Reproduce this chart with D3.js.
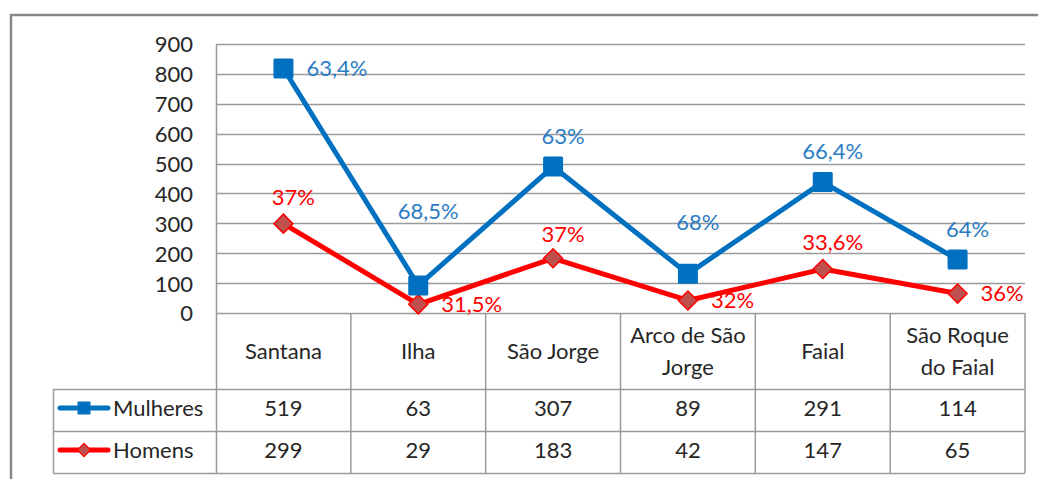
<!DOCTYPE html>
<html>
<head>
<meta charset="utf-8">
<script src="https://cdn.jsdelivr.net/npm/d3@7"></script>
<style>
body { margin: 0; background: #fff; }
svg text { font-family: Lato, "Open Sans", sans-serif; }
</style>
</head>
<body>
<div id="chart"></div>
<script>
var categories = ["Santana", "Ilha", "São Jorge", "Arco de São Jorge", "Faial", "São Roque do Faial"];
var mulheres = [519, 63, 307, 89, 291, 114];
var homens = [299, 29, 183, 42, 147, 65];
var pctMulheres = ["63,4%", "68,5%", "63%", "68%", "66,4%", "64%"];
var pctHomens = ["37%", "31,5%", "37%", "32%", "33,6%", "36%"];
var yTicks = [0, 100, 200, 300, 400, 500, 600, 700, 800, 900];

// where each data label sits relative to its point (layout only)
var posMulheres = ["right", "top", "top", "top", "top", "top"];
var liftMulheres = [0, 74, 30, 52, 31, 30];
var posHomens = ["top", "right", "top", "right", "top", "right"];
var liftHomens = [27, 0, 24, 0, 27, 0];

var width = 1038, height = 479;
var plot = {left: 216, right: 1025, top: 44, bottom: 313};
var rows = {cat: 389, m: 431, h: 473, legendLeft: 53};
var blue = "#0070C0", red = "#FF0000", grid = "#9a9a9a", ink = "#262626";
var fs = "22px";

var svg = d3.select("#chart").append("svg")
	.attr("width", width)
	.attr("height", height);

// outer frame (top and left edges only are visible)
svg.append("path")
	.attr("d", "M11,480 L11,15 L1038,15")
	.attr("fill", "none")
	.attr("stroke", "#888")
	.attr("stroke-width", 2.5);

var x = d3.scaleBand().domain(categories).range([plot.left, plot.right]);
var y = d3.scaleLinear().domain([0, 900]).range([plot.bottom, plot.top]);

// stacked: women sit on top of men
var stackM = mulheres.map(function(d, i) { return d + homens[i]; });

// gridlines
svg.append("g").selectAll("line")
	.data(yTicks)
	.enter()
	.append("line")
	.attr("x1", plot.left)
	.attr("x2", plot.right)
	.attr("y1", function(d) { return Math.round(y(d)) + 0.5; })
	.attr("y2", function(d) { return Math.round(y(d)) + 0.5; })
	.attr("stroke", grid)
	.attr("stroke-width", 1.5);

// y axis
var yAxis = svg.append("g")
	.attr("transform", "translate(" + plot.left + ",0)")
	.call(d3.axisLeft(y).tickValues(yTicks).tickSize(0).tickPadding(23));
yAxis.select(".domain").remove();
yAxis.selectAll("text")
	.style("font-size", fs)
	.attr("fill", ink)
	.attr("dy", "0.36em");

svg.append("line")
	.attr("x1", plot.left + 0.5).attr("x2", plot.left + 0.5)
	.attr("y1", plot.top).attr("y2", rows.h)
	.attr("stroke", grid).attr("stroke-width", 1.5);

// data table grid
var tbl = svg.append("g").attr("stroke", grid).attr("stroke-width", 1.5);
x.domain().forEach(function(c) {
	tbl.append("line")
		.attr("x1", x(c) + x.bandwidth()).attr("x2", x(c) + x.bandwidth())
		.attr("y1", plot.bottom).attr("y2", rows.h);
});
[rows.cat, rows.m, rows.h].forEach(function(r) {
	tbl.append("line")
		.attr("x1", rows.legendLeft).attr("x2", plot.right)
		.attr("y1", r + 0.5).attr("y2", r + 0.5);
});
tbl.append("line")
	.attr("x1", rows.legendLeft + 0.5).attr("x2", rows.legendLeft + 0.5)
	.attr("y1", rows.cat).attr("y2", rows.h);

// category labels, wrapped to the column width
var catG = svg.append("g");
categories.forEach(function(c) {
	var words = c.split(" ");
	var lines = [];
	var cur = "";
	var probe = catG.append("text").style("font-size", fs);
	words.forEach(function(w) {
		var test = cur ? cur + " " + w : w;
		probe.text(test);
		if (cur && probe.node().getComputedTextLength() > 118) {
			lines.push(cur);
			cur = w;
		} else {
			cur = test;
		}
	});
	lines.push(cur);
	probe.remove();
	var cx = x(c) + x.bandwidth() / 2;
	var cy = (plot.bottom + rows.cat) / 2;
	var lh = 32;
	lines.forEach(function(l, k) {
		catG.append("text")
			.attr("x", cx)
			.attr("y", cy + (k - (lines.length - 1) / 2) * lh)
			.attr("dy", "0.36em")
			.attr("text-anchor", "middle")
			.style("font-size", fs)
			.attr("fill", ink)
			.text(l);
	});
});

// table values
function valueRow(vals, top, bottom) {
	svg.append("g").selectAll("text")
		.data(vals)
		.enter()
		.append("text")
		.attr("x", function(d, i) { return x(categories[i]) + x.bandwidth() / 2; })
		.attr("y", (top + bottom) / 2 - 2)
		.attr("dy", "0.36em")
		.attr("text-anchor", "middle")
		.style("font-size", fs)
		.attr("fill", ink)
		.text(function(d) { return d; });
}
valueRow(mulheres, rows.cat, rows.m);
valueRow(homens, rows.m, rows.h);

// legend keys inside the table
function legendKey(top, bottom, color, name, marker) {
	var cy = (top + bottom) / 2 - 2;
	var g = svg.append("g");
	g.append("line")
		.attr("x1", 60).attr("x2", 108)
		.attr("y1", cy).attr("y2", cy)
		.attr("stroke", color).attr("stroke-width", 5)
		.attr("stroke-linecap", "round");
	if (marker == "square") {
		g.append("rect")
			.attr("x", 84 - 6.5).attr("y", cy - 6.5)
			.attr("width", 13).attr("height", 13)
			.attr("fill", blue);
	} else {
		g.append("path")
			.attr("d", d3.symbol(d3.symbolDiamond2, 110)())
			.attr("transform", "translate(84," + cy + ")")
			.attr("fill", "#C0504D")
			.attr("stroke", red).attr("stroke-width", 1.2);
	}
	g.append("text")
		.attr("x", 113).attr("y", cy)
		.attr("dy", "0.36em")
		.style("font-size", fs)
		.attr("fill", ink)
		.text(name);
}
legendKey(rows.cat, rows.m, blue, "Mulheres", "square");
legendKey(rows.m, rows.h, red, "Homens", "diamond");

// lines
var cx = function(d, i) { return x(categories[i]) + x.bandwidth() / 2; };
var line = d3.line()
	.x(cx)
	.y(function(d) { return y(d); });

svg.append("path")
	.datum(homens)
	.attr("d", line)
	.attr("fill", "none")
	.attr("stroke", red)
	.attr("stroke-width", 5)
	.attr("stroke-linejoin", "round");

svg.append("path")
	.datum(stackM)
	.attr("d", line)
	.attr("fill", "none")
	.attr("stroke", blue)
	.attr("stroke-width", 5)
	.attr("stroke-linejoin", "round");

// markers
svg.append("g").selectAll("path")
	.data(homens)
	.enter()
	.append("path")
	.attr("d", d3.symbol(d3.symbolDiamond2, 230)())
	.attr("transform", function(d, i) { return "translate(" + cx(d, i) + "," + y(d) + ")"; })
	.attr("fill", "#C0504D")
	.attr("stroke", red)
	.attr("stroke-width", 1.5);

svg.append("g").selectAll("rect")
	.data(stackM)
	.enter()
	.append("rect")
	.attr("x", function(d, i) { return cx(d, i) - 10; })
	.attr("y", function(d) { return y(d) - 10; })
	.attr("width", 20)
	.attr("height", 20)
	.attr("rx", 1.5)
	.attr("fill", blue);

// data labels
function dataLabels(vals, texts, pos, lift, color) {
	svg.append("g").selectAll("text")
		.data(vals)
		.enter()
		.append("text")
		.attr("x", function(d, i) { return pos[i] == "right" ? cx(d, i) + 23 : cx(d, i) + 10; })
		.attr("y", function(d, i) { return y(d) - lift[i]; })
		.attr("dy", "0.36em")
		.attr("text-anchor", function(d, i) { return pos[i] == "right" ? "start" : "middle"; })
		.style("font-size", fs)
		.attr("fill", color)
		.text(function(d, i) { return texts[i]; });
}
dataLabels(stackM, pctMulheres, posMulheres, liftMulheres, "#2A7CC4");
dataLabels(homens, pctHomens, posHomens, liftHomens, red);
</script>
</body>
</html>
